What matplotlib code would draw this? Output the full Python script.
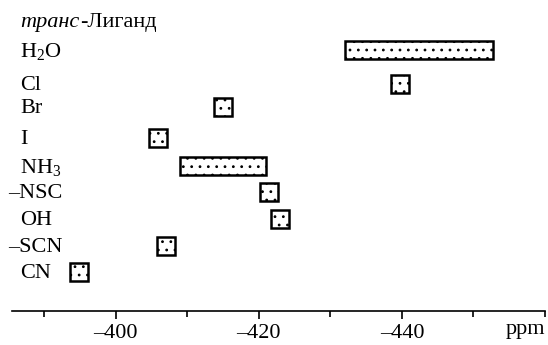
import matplotlib
matplotlib.use("Agg")
import matplotlib.pyplot as plt
from matplotlib.patches import Rectangle
from matplotlib.ticker import FixedLocator, FuncFormatter
import matplotlib.transforms as mtransforms

plt.rcParams["font.family"] = ["Liberation Serif", "DejaVu Serif"]
plt.rcParams["mathtext.fontset"] = "custom"
plt.rcParams["mathtext.rm"] = "Liberation Serif"
plt.rcParams["mathtext.it"] = "Liberation Serif:italic"
plt.rcParams["hatch.linewidth"] = 0.8

# trans-ligands and their 195Pt chemical shift ranges (ppm)
ligands = ["H$_2$O", "Cl", "Br", "I", "NH$_3$", "\u2013NSC", "OH", "\u2013SCN", "CN"]
shift_from = [-432.0, -439.7, -415.0, -405.9, -409.0, -421.4, -423.0, -407.0, -394.9]
shift_to = [-452.7, -439.7, -415.0, -405.9, -421.0, -421.4, -423.0, -407.0, -394.9]

major_ticks = [-400, -420, -440]
minor_ticks = [-390, -410, -430, -450, -460]

# vertical layout of the rows (top to bottom)
row_y = [50, 84, 107, 138, 166, 192, 219, 245.5, 272]
box_h = 18
point_w = 2.5
fs = 16

fig = plt.figure(figsize=(5.48, 3.45), dpi=100)
ax = fig.add_axes([12 / 548, 1 - 311 / 345, (545 - 12) / 548, 311 / 345])
ax.set_xlim(-385.5, -460)
ax.set_ylim(311, 0)

for y, a, b in zip(row_y, shift_from, shift_to):
    lo, hi = min(a, b), max(a, b)
    if hi - lo < point_w:
        c = (a + b) / 2
        lo, hi = c - point_w / 2, c + point_w / 2
    ax.add_patch(Rectangle((lo, y - box_h / 2), hi - lo, box_h,
                           facecolor="white", edgecolor="black",
                           linewidth=1.8, hatch=".."))

for s in ["top", "left", "right"]:
    ax.spines[s].set_visible(False)
ax.spines["bottom"].set_linewidth(1.2)
ax.yaxis.set_visible(False)

ax.xaxis.set_major_locator(FixedLocator(major_ticks))
ax.xaxis.set_minor_locator(FixedLocator(minor_ticks))
ax.xaxis.set_major_formatter(FuncFormatter(lambda v, p: f"\u2013{abs(int(v))}"))
ax.tick_params(axis="x", which="major", length=6, width=1.2, labelsize=fs, pad=3)
ax.tick_params(axis="x", which="minor", length=4, width=1.2)

# unit label at the right end of the axis
ax.text(1.0, -0.03, "ppm", transform=ax.transAxes, ha="right", va="top", fontsize=fs)

# ligand names in the left margin
trans = mtransforms.blended_transform_factory(fig.transFigure, ax.transData)
for name, y in zip(ligands, row_y):
    x = 8 if name.startswith("\u2013") else 20
    ax.text(x / 548, y + 1.5, name, transform=trans, ha="left", va="center", fontsize=fs)

# column heading: italic prefix followed by upright word
head = ax.text(20 / 548, 22, "транс", transform=trans, ha="left", va="center",
               fontsize=fs, fontstyle="italic")
ax.annotate("-Лиганд", xy=(1, 0.5), xycoords=head, xytext=(0.5, 0),
            textcoords="offset points", ha="left", va="center", fontsize=fs)

fig.savefig("out.png", dpi=100)
